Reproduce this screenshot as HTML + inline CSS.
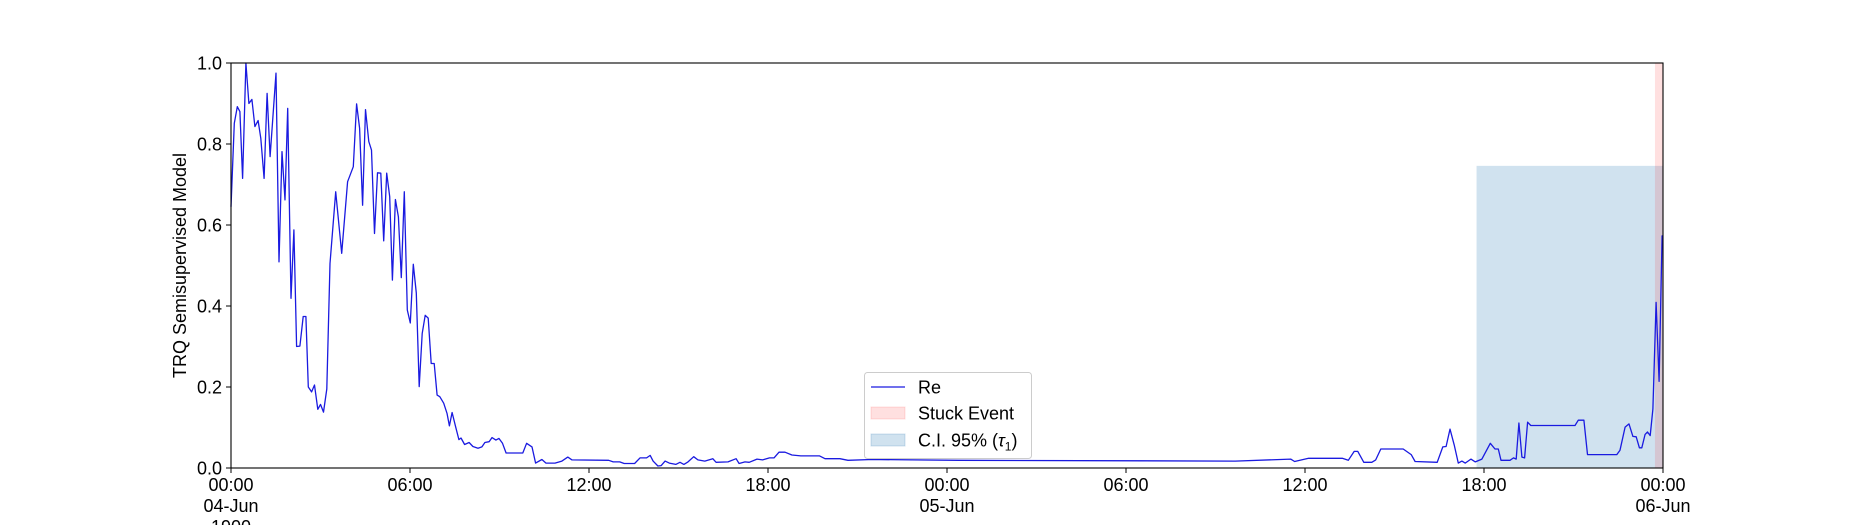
<!DOCTYPE html>
<html><head><meta charset="utf-8"><style>
html,body{margin:0;padding:0;background:#fff;}
svg{display:block;font-family:"Liberation Sans","DejaVu Sans",sans-serif;}
</style></head><body>
<svg id="chart" width="1850" height="525" viewBox="0 0 1850 525" xmlns="http://www.w3.org/2000/svg">
<g id="bands"></g>
<g id="series"></g>
<g id="axes"></g>
<g id="legend"></g>
</svg>
<script>
const hours = [0,0.11,0.21,0.30,0.39,0.50,0.60,0.70,0.80,0.91,1.0,1.11,1.21,1.31,1.51,1.61,1.71,1.81,1.90,2.01,2.11,2.20,2.31,2.42,2.51,2.59,2.70,2.80,2.91,3.0,3.10,3.21,3.32,3.51,3.71,3.91,4.10,4.21,4.31,4.41,4.51,4.62,4.71,4.81,4.91,5.02,5.12,5.22,5.32,5.41,5.51,5.61,5.71,5.81,5.91,6.01,6.11,6.21,6.31,6.41,6.51,6.61,6.71,6.81,6.91,7.0,7.13,7.24,7.32,7.41,7.53,7.64,7.71,7.83,7.98,8.11,8.28,8.41,8.51,8.65,8.75,8.88,8.98,9.10,9.22,9.78,9.91,10.09,10.21,10.42,10.56,10.86,11.09,11.29,11.43,12.66,12.81,13.03,13.18,13.53,13.71,13.93,14.05,14.15,14.31,14.42,14.55,14.69,14.91,15.05,15.18,15.32,15.51,15.65,15.88,16.15,16.26,16.66,16.93,17.03,17.23,17.37,17.63,17.82,18.05,18.2,18.37,18.57,18.80,19.10,19.73,19.91,20.41,20.68,21.47,24.39,33.66,35.52,35.65,36.12,37.25,37.45,37.65,37.77,37.97,38.24,38.37,38.54,39.29,39.56,39.69,40.43,40.62,40.73,40.86,41.0,41.14,41.26,41.37,41.56,41.71,41.93,42.21,42.37,42.48,42.57,42.87,42.99,43.08,43.17,43.27,43.36,43.46,43.57,45.05,45.16,45.35,45.47,46.45,46.56,46.73,46.86,46.99,47.10,47.21,47.29,47.40,47.48,47.57,47.66,47.77,47.87,47.97,48.0];
const values = [0.645,0.851,0.892,0.880,0.715,1.0,0.900,0.910,0.843,0.858,0.814,0.715,0.925,0.769,0.975,0.509,0.781,0.662,0.888,0.419,0.588,0.300,0.301,0.374,0.374,0.20,0.188,0.205,0.145,0.157,0.138,0.195,0.505,0.682,0.530,0.707,0.744,0.899,0.839,0.649,0.885,0.806,0.785,0.579,0.729,0.728,0.561,0.728,0.670,0.464,0.663,0.620,0.470,0.682,0.390,0.358,0.503,0.432,0.201,0.332,0.377,0.370,0.258,0.258,0.180,0.176,0.160,0.135,0.104,0.137,0.102,0.070,0.074,0.058,0.063,0.053,0.049,0.052,0.063,0.065,0.075,0.069,0.073,0.061,0.037,0.037,0.061,0.052,0.012,0.021,0.012,0.012,0.017,0.027,0.020,0.019,0.015,0.015,0.011,0.011,0.025,0.025,0.031,0.017,0.005,0.006,0.017,0.012,0.009,0.014,0.009,0.015,0.028,0.020,0.017,0.023,0.014,0.015,0.023,0.011,0.015,0.014,0.022,0.020,0.025,0.025,0.039,0.039,0.032,0.030,0.030,0.023,0.023,0.019,0.021,0.019,0.017,0.022,0.016,0.024,0.024,0.019,0.041,0.041,0.014,0.014,0.020,0.047,0.047,0.033,0.016,0.014,0.052,0.053,0.096,0.057,0.012,0.017,0.012,0.022,0.015,0.022,0.061,0.047,0.047,0.019,0.019,0.025,0.022,0.111,0.027,0.025,0.113,0.105,0.105,0.118,0.118,0.033,0.033,0.044,0.101,0.109,0.078,0.077,0.050,0.050,0.083,0.089,0.080,0.146,0.409,0.214,0.573,0.573];
const ciBand = [41.75, 48, 0.746];
const stuckBand = [47.73, 48];
const yTicks = [0,0.2,0.4,0.6,0.8,1.0];
const xTickHours = [0,6,12,18,24,30,36,42,48];
const xTickLabels = [["00:00","04-Jun","1900"],["06:00"],["12:00"],["18:00"],["00:00","05-Jun"],["06:00"],["12:00"],["18:00"],["00:00","06-Jun"]];

const L=231,R=1663,T=63,B=468;
const FS=18;
const xs=h=>L+(h/48)*(R-L);
const ys=v=>B-v*(B-T);
const NS="http://www.w3.org/2000/svg";
function mk(tag,attrs,parent){const e=document.createElementNS(NS,tag);for(const k in attrs)e.setAttribute(k,attrs[k]);parent.appendChild(e);return e;}

const bands=document.getElementById('bands');
const ci=mk('rect',{x:xs(ciBand[0]),y:ys(ciBand[2]),width:xs(ciBand[1])-xs(ciBand[0]),height:B-ys(ciBand[2]),fill:'#1f77b4','fill-opacity':0.21},bands);


const st=mk('rect',{x:xs(stuckBand[0]),y:T,width:xs(stuckBand[1])-xs(stuckBand[0]),height:B-T,fill:'#ff0000','fill-opacity':0.12},bands);



const ser=document.getElementById('series');
let d='';hours.forEach((h,i)=>{d+=(i?'L':'M')+xs(h).toFixed(1)+','+ys(values[i]).toFixed(1);});
const line=mk('path',{d:d,fill:'none',stroke:'#1a1ae0','stroke-width':1.3,'stroke-linejoin':'round'},ser);



const ax=document.getElementById('axes');
const frame=mk('rect',{x:L,y:T,width:R-L,height:B-T,fill:'none',stroke:'#000','stroke-width':1.1},ax);


yTicks.forEach(v=>{
  mk('line',{x1:L-5,x2:L,y1:ys(v),y2:ys(v),stroke:'#000','stroke-width':1},ax);
  const t=mk('text',{x:L-9,y:ys(v)+6.5,'text-anchor':'end','font-size':FS,fill:'#000'},ax);
  t.textContent=v.toFixed(1);
  
  
});
xTickHours.forEach((h,i)=>{
  mk('line',{x1:xs(h),x2:xs(h),y1:B,y2:B+5,stroke:'#000','stroke-width':1},ax);
  xTickLabels[i].forEach((s,j)=>{
    const t=mk('text',{x:xs(h),y:491+j*21,'text-anchor':'middle','font-size':FS,fill:'#000'},ax);
    t.textContent=s;
    
    
  });
});
const yl=mk('text',{x:0,y:0,transform:'translate(186,'+((T+B)/2)+') rotate(-90)','text-anchor':'middle','font-size':FS,fill:'#000'},ax);
yl.textContent='TRQ Semisupervised Model';



const lg=document.getElementById('legend');
const box=mk('rect',{x:864.5,y:372.5,width:167,height:86,rx:3,fill:'#fff','fill-opacity':0.85,stroke:'#ccc','stroke-width':1},lg);


const e1=mk('line',{x1:871,x2:905,y1:387,y2:387,stroke:'#1a1ae0','stroke-width':1.3},lg);


const e2=mk('rect',{x:871,y:407,width:34,height:12,fill:'#ff0000','fill-opacity':0.12,stroke:'#ff0000','stroke-opacity':0.12},lg);


const e3=mk('rect',{x:871,y:434,width:34,height:12,fill:'#1f77b4','fill-opacity':0.21,stroke:'#1f77b4','stroke-opacity':0.21},lg);


[['Re',393.5],['Stuck Event',419.5]].forEach(([s,y])=>{
  const t=mk('text',{x:918,y:y,'font-size':FS,fill:'#000'},lg);
  t.textContent=s;
  
  
});
const t3=mk('text',{x:918,y:446.5,'font-size':FS,fill:'#000'},lg);
t3.innerHTML='C.I. 95% (<tspan font-style="italic">τ</tspan><tspan font-size="12" dy="4">1</tspan><tspan dy="-4">)</tspan>';


</script>
</body></html>
